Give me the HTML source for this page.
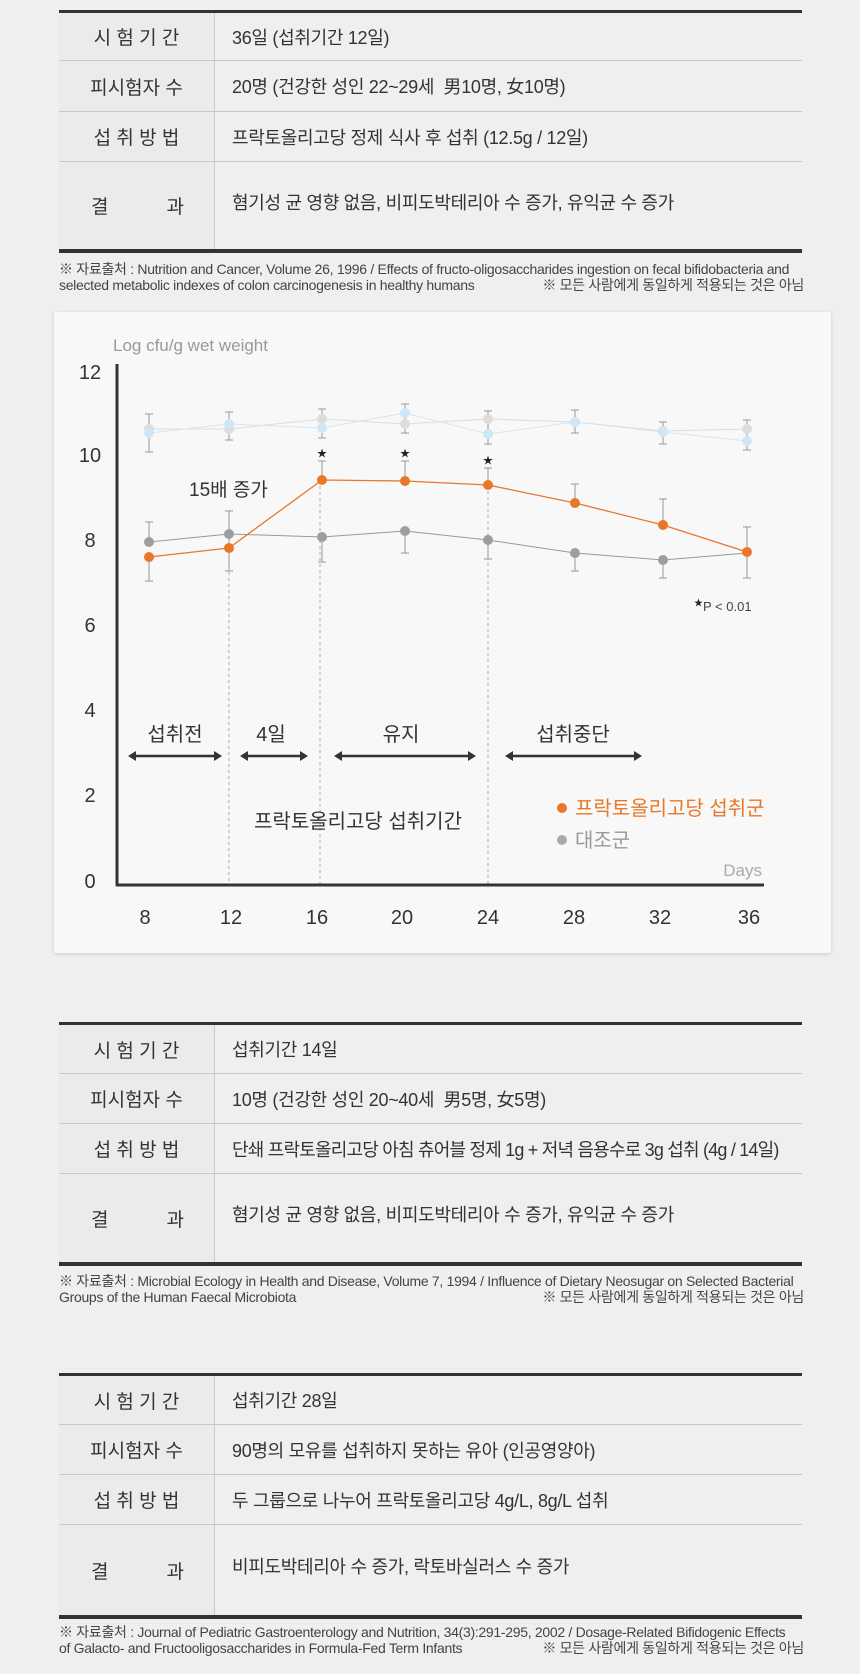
<!DOCTYPE html>
<html><head><meta charset="utf-8">
<style>
body{margin:0;width:860px;height:1674px;background:#efefef;position:relative;font-family:"Liberation Sans","Noto Sans CJK KR",sans-serif;color:#333;overflow:hidden}
.tb{position:absolute;left:59px;width:743px;border-top:3px solid #333;border-bottom:4px solid #333;box-sizing:border-box}
.row{position:relative;border-bottom:1px solid #c8c8c8;display:flex;align-items:center}
.row:last-child{border-bottom:none}
.lab{width:156px;height:100%;background:#ebebeb;border-right:1px solid #c8c8c8;display:flex;align-items:center;justify-content:center;font-size:19px;letter-spacing:0;box-sizing:border-box;white-space:pre}
.lab.r{justify-content:space-between;padding:0 30px 0 32px}
.val{padding-left:17px;font-size:18px;letter-spacing:-0.3px;white-space:nowrap}
.fn{position:absolute;left:59px;width:745px;font-size:14px;line-height:16px;color:#444;letter-spacing:-0.3px;white-space:nowrap}
.fn .rt{float:right}
.box{position:absolute;left:54px;top:312px;width:777px;height:641px;background:#f8f8f8;box-shadow:0 1px 4px rgba(0,0,0,0.15)}
</style></head><body>

<div class="tb" style="top:10px">
<div class="row" style="height:47px"><div class="lab">시 험 기 간</div><div class="val">36일 (섭취기간 12일)</div></div>
<div class="row" style="height:50px"><div class="lab">피시험자 수</div><div class="val">20명 (건강한 성인 22~29세 &nbsp;男10명, 女10명)</div></div>
<div class="row" style="height:49px"><div class="lab">섭 취 방 법</div><div class="val">프락토올리고당 정제 식사 후 섭취 (12.5g / 12일)</div></div>
<div class="row" style="height:87px"><div class="lab r"><span>결</span><span>과</span></div><div class="val" style="margin-top:-8px">혐기성 균 영향 없음, 비피도박테리아 수 증가, 유익균 수 증가</div></div>
</div>
<div class="fn" style="top:261px">※ 자료출처 : Nutrition and Cancer, Volume 26, 1996 / Effects of fructo-oligosaccharides ingestion on fecal bifidobacteria and<br>selected metabolic indexes of colon carcinogenesis in healthy humans<span class="rt">※ 모든 사람에게 동일하게 적용되는 것은 아님</span></div>

<div class="box"></div>
<svg style="position:absolute;left:0;top:0" width="860" height="1000" font-family="Liberation Sans, Noto Sans CJK KR, sans-serif">
<g fill="#333" font-size="20" text-anchor="middle">
<text x="90" y="379">12</text><text x="90" y="462">10</text><text x="90" y="547">8</text><text x="90" y="632">6</text><text x="90" y="717">4</text><text x="90" y="802">2</text><text x="90" y="888">0</text>
<text x="145" y="924">8</text><text x="231" y="924">12</text><text x="317" y="924">16</text><text x="402" y="924">20</text><text x="488" y="924">24</text><text x="574" y="924">28</text><text x="660" y="924">32</text><text x="749" y="924">36</text>
</g>
<text x="113" y="351" font-size="17" fill="#999">Log cfu/g wet weight</text>
<text x="762" y="876" font-size="17" fill="#aaa" text-anchor="end">Days</text>
<g stroke="#aaa" stroke-dasharray="3,3" stroke-width="1">
<line x1="229" y1="548" x2="229" y2="885"/><line x1="320" y1="480" x2="320" y2="885"/><line x1="488" y1="485" x2="488" y2="885"/>
</g>
<g stroke="#999" stroke-width="1">
<line x1="149" y1="414" x2="149" y2="452"/><line x1="145" y1="414" x2="153" y2="414"/><line x1="145" y1="452" x2="153" y2="452"/>
<line x1="229" y1="412" x2="229" y2="440"/><line x1="225" y1="412" x2="233" y2="412"/><line x1="225" y1="440" x2="233" y2="440"/>
<line x1="322" y1="409" x2="322" y2="438"/><line x1="318" y1="409" x2="326" y2="409"/><line x1="318" y1="438" x2="326" y2="438"/>
<line x1="405" y1="404" x2="405" y2="433"/><line x1="401" y1="404" x2="409" y2="404"/><line x1="401" y1="433" x2="409" y2="433"/>
<line x1="488" y1="411" x2="488" y2="444"/><line x1="484" y1="411" x2="492" y2="411"/><line x1="484" y1="444" x2="492" y2="444"/>
<line x1="575" y1="410" x2="575" y2="433"/><line x1="571" y1="410" x2="579" y2="410"/><line x1="571" y1="433" x2="579" y2="433"/>
<line x1="663" y1="422" x2="663" y2="444"/><line x1="659" y1="422" x2="667" y2="422"/><line x1="659" y1="444" x2="667" y2="444"/>
<line x1="747" y1="420" x2="747" y2="450"/><line x1="743" y1="420" x2="751" y2="420"/><line x1="743" y1="450" x2="751" y2="450"/>
</g>
<polyline fill="none" stroke="#ddd" stroke-width="1" points="149,429 229,429 322,419 405,424 488,419 575,422 663,431 747,429"/>
<g fill="#ddd"><circle cx="149" cy="429" r="5"/><circle cx="229" cy="429" r="5"/><circle cx="322" cy="419" r="5"/><circle cx="405" cy="424" r="5"/><circle cx="488" cy="419" r="5"/><circle cx="575" cy="422" r="5"/><circle cx="663" cy="431" r="5"/><circle cx="747" cy="429" r="5"/></g>
<polyline fill="none" stroke="#cfe6f7" stroke-width="1" points="149,433 229,424 322,428 405,413 488,434 575,422 663,432 747,441"/>
<g fill="#cfe6f7"><circle cx="149" cy="433" r="5"/><circle cx="229" cy="424" r="5"/><circle cx="322" cy="428" r="5"/><circle cx="405" cy="413" r="5"/><circle cx="488" cy="434" r="5"/><circle cx="575" cy="422" r="5"/><circle cx="663" cy="432" r="5"/><circle cx="747" cy="441" r="5"/></g>
<g stroke="#999" stroke-width="1">
<line x1="149" y1="522" x2="149" y2="542"/><line x1="145" y1="522" x2="153" y2="522"/>
<line x1="229" y1="511" x2="229" y2="571"/><line x1="225" y1="511" x2="233" y2="511"/><line x1="225" y1="571" x2="233" y2="571"/>
<line x1="322" y1="536" x2="322" y2="562"/><line x1="318" y1="562" x2="326" y2="562"/>
<line x1="405" y1="531" x2="405" y2="553"/><line x1="401" y1="553" x2="409" y2="553"/>
<line x1="488" y1="540" x2="488" y2="559"/><line x1="484" y1="559" x2="492" y2="559"/>
<line x1="575" y1="553" x2="575" y2="571"/><line x1="571" y1="571" x2="579" y2="571"/>
<line x1="663" y1="560" x2="663" y2="578"/><line x1="659" y1="578" x2="667" y2="578"/>
<line x1="747" y1="552" x2="747" y2="578"/><line x1="743" y1="578" x2="751" y2="578"/>
<line x1="149" y1="557" x2="149" y2="581"/><line x1="145" y1="581" x2="153" y2="581"/>
<line x1="322" y1="461" x2="322" y2="480"/><line x1="318" y1="461" x2="326" y2="461"/>
<line x1="405" y1="461" x2="405" y2="481"/><line x1="401" y1="461" x2="409" y2="461"/>
<line x1="488" y1="468" x2="488" y2="485"/><line x1="484" y1="468" x2="492" y2="468"/>
<line x1="575" y1="484" x2="575" y2="503"/><line x1="571" y1="484" x2="579" y2="484"/>
<line x1="663" y1="499" x2="663" y2="525"/><line x1="659" y1="499" x2="667" y2="499"/>
<line x1="747" y1="527" x2="747" y2="552"/><line x1="743" y1="527" x2="751" y2="527"/>
</g>
<polyline fill="none" stroke="#999" stroke-width="1" points="149,542 229,534 322,537 405,531 488,540 575,553 663,560 747,553"/>
<g fill="#9e9e9e"><circle cx="149" cy="542" r="5"/><circle cx="229" cy="534" r="5"/><circle cx="322" cy="537" r="5"/><circle cx="405" cy="531" r="5"/><circle cx="488" cy="540" r="5"/><circle cx="575" cy="553" r="5"/><circle cx="663" cy="560" r="5"/></g>
<polyline fill="none" stroke="#e8772a" stroke-width="1.3" points="149,557 229,548 322,480 405,481 488,485 575,503 663,525 747,552"/>
<g fill="#e8772a"><circle cx="149" cy="557" r="5"/><circle cx="229" cy="548" r="5"/><circle cx="322" cy="480" r="5"/><circle cx="405" cy="481" r="5"/><circle cx="488" cy="485" r="5"/><circle cx="575" cy="503" r="5"/><circle cx="663" cy="525" r="5"/><circle cx="747" cy="552" r="5"/></g>
<g font-size="10" fill="#222" text-anchor="middle"><text x="322" y="457">★</text><text x="405" y="457">★</text><text x="488" y="464">★</text></g>
<text x="189" y="496" font-size="19" fill="#333">15배 증가</text>
<text x="694" y="606" font-size="9" fill="#222">★</text><text x="703" y="611" font-size="13" fill="#444">P &lt; 0.01</text>
<line x1="117" y1="364" x2="117" y2="886" stroke="#333" stroke-width="3"/>
<line x1="116" y1="885" x2="764" y2="885" stroke="#333" stroke-width="3"/>
<g stroke="#333" stroke-width="2.5" fill="#333">
<line x1="132" y1="756" x2="218" y2="756"/><line x1="244" y1="756" x2="304" y2="756"/><line x1="338" y1="756" x2="472" y2="756"/><line x1="509" y1="756" x2="638" y2="756"/>
</g>
<g fill="#333">
<polygon points="128,756 136,751 136,761"/><polygon points="222,756 214,751 214,761"/>
<polygon points="240,756 248,751 248,761"/><polygon points="308,756 300,751 300,761"/>
<polygon points="334,756 342,751 342,761"/><polygon points="476,756 468,751 468,761"/>
<polygon points="505,756 513,751 513,761"/><polygon points="642,756 634,751 634,761"/>
</g>
<g font-size="20" fill="#333" text-anchor="middle">
<text x="175" y="741">섭취전</text><text x="271" y="741">4일</text><text x="401" y="741">유지</text><text x="573" y="741">섭취중단</text>
<text x="358" y="828">프락토올리고당 섭취기간</text>
</g>
<circle cx="562" cy="808" r="5" fill="#e8772a"/><text x="575" y="815" font-size="20" fill="#e8772a">프락토올리고당 섭취군</text>
<circle cx="562" cy="840" r="5" fill="#aaa"/><text x="575" y="847" font-size="20" fill="#999">대조군</text>
</svg>

<div class="tb" style="top:1022px">
<div class="row" style="height:48px"><div class="lab">시 험 기 간</div><div class="val">섭취기간 14일</div></div>
<div class="row" style="height:49px"><div class="lab">피시험자 수</div><div class="val">10명 (건강한 성인 20~40세 &nbsp;男5명, 女5명)</div></div>
<div class="row" style="height:49px"><div class="lab">섭 취 방 법</div><div class="val" style="letter-spacing:-0.8px">단쇄 프락토올리고당 아침 츄어블 정제 1g + 저녁 음용수로 3g 섭취 (4g / 14일)</div></div>
<div class="row" style="height:88px"><div class="lab r"><span>결</span><span>과</span></div><div class="val" style="margin-top:-8px">혐기성 균 영향 없음, 비피도박테리아 수 증가, 유익균 수 증가</div></div>
</div>
<div class="fn" style="top:1273px">※ 자료출처 : Microbial Ecology in Health and Disease, Volume 7, 1994 / Influence of Dietary Neosugar on Selected Bacterial<br>Groups of the Human Faecal Microbiota<span class="rt">※ 모든 사람에게 동일하게 적용되는 것은 아님</span></div>

<div class="tb" style="top:1373px">
<div class="row" style="height:48px"><div class="lab">시 험 기 간</div><div class="val">섭취기간 28일</div></div>
<div class="row" style="height:49px"><div class="lab">피시험자 수</div><div class="val">90명의 모유를 섭취하지 못하는 유아 (인공영양아)</div></div>
<div class="row" style="height:49px"><div class="lab">섭 취 방 법</div><div class="val">두 그룹으로 나누어 프락토올리고당 4g/L, 8g/L 섭취</div></div>
<div class="row" style="height:90px"><div class="lab r"><span>결</span><span>과</span></div><div class="val" style="margin-top:-8px">비피도박테리아 수 증가, 락토바실러스 수 증가</div></div>
</div>
<div class="fn" style="top:1624px">※ 자료출처 : Journal of Pediatric Gastroenterology and Nutrition, 34(3):291-295, 2002 / Dosage-Related Bifidogenic Effects<br>of Galacto- and Fructooligosaccharides in Formula-Fed Term Infants<span class="rt">※ 모든 사람에게 동일하게 적용되는 것은 아님</span></div>
</body></html>
